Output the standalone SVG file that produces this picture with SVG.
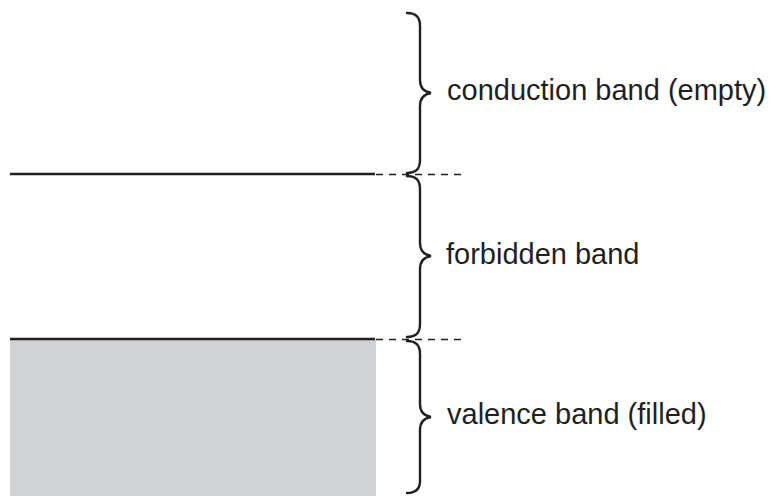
<svg xmlns="http://www.w3.org/2000/svg" width="772" height="496" viewBox="0 0 772 496">
<style>
.lbl{font-family:"Liberation Sans",Arial,sans-serif;font-size:29px;fill:#231f20}
.brace{fill:none;stroke:#231f20;stroke-width:2.4;stroke-linecap:round}
.edge{stroke:#231f20;stroke-width:2.5}
.dash{stroke:#231f20;stroke-width:1.4;stroke-dasharray:7 6}
</style>
<rect width="772" height="496" fill="#ffffff"/>
<g id="valence-fill">
<rect x="10" y="339" width="366" height="157" fill="#d1d2d4"/>
</g>
<g id="connectors">
<line class="edge" x1="10" y1="174" x2="375" y2="174"/>
<line class="dash" x1="376" y1="174.5" x2="463" y2="174.5"/>
<line class="edge" x1="10" y1="339" x2="375" y2="339"/>
<line class="dash" x1="376" y1="339.5" x2="463" y2="339.5"/>
</g>
<g id="conduction">
<path class="brace" d="M407 13 C415 13 420 16 420 26 L420 80 C420 88 425 92 431 93 C425 94 420 98 420 106 L420 160 C420 170 415 173 407 173"/>
<text class="lbl" x="447" y="100">conduction band (empty)</text>
</g>
<g id="forbidden">
<path class="brace" d="M407 176 C415 176 420 179 420 189 L420 243 C420 251 425 255 431 256 C425 257 420 261 420 269 L420 324 C420 334 415 337 407 337"/>
<text class="lbl" x="446" y="264">forbidden band</text>
</g>
<g id="valence">
<path class="brace" d="M407 341 C415 341 420 344 420 354 L420 404 C420 412 425 416 431 417 C425 418 420 422 420 430 L420 481 C420 490 415 493 407 493"/>
<text class="lbl" x="447" y="424">valence band (filled)</text>
</g>
</svg>
